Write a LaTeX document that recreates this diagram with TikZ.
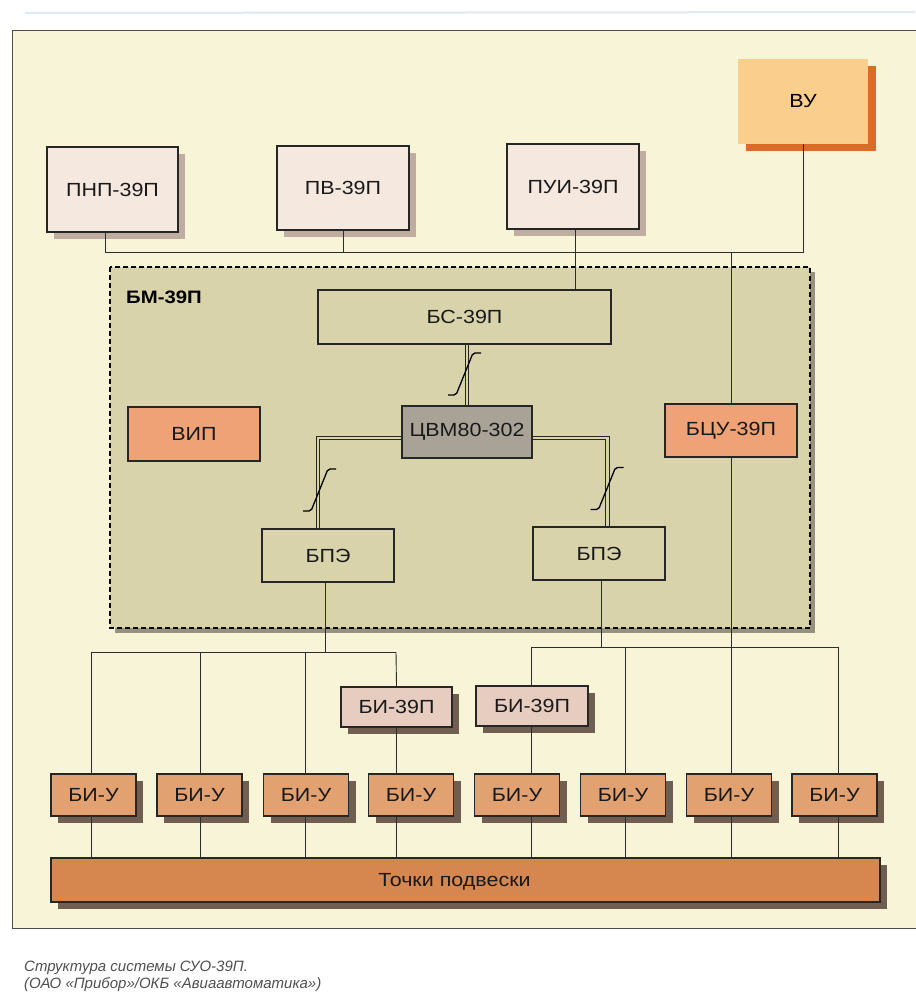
\documentclass[tikz,border=0pt]{standalone}
\usepackage{fontspec}
\setmainfont{Liberation Sans}[FakeStretch=1.13]
\newfontfamily\capfont{Liberation Sans}
\definecolor{cream}{RGB}{247,244,216}
\definecolor{olive}{RGB}{216,211,171}
\definecolor{oliveshadow}{RGB}{150,146,126}
\definecolor{pinkbox}{RGB}{245,232,222}
\definecolor{pinkshadow}{RGB}{192,173,162}
\definecolor{vufill}{RGB}{250,207,142}
\definecolor{vushadow}{RGB}{218,108,40}
\definecolor{orangebox}{RGB}{238,162,118}
\definecolor{cvmfill}{RGB}{168,163,150}
\definecolor{bifill}{RGB}{231,205,192}
\definecolor{biufill}{RGB}{226,161,112}
\definecolor{barfill}{RGB}{214,135,80}
\definecolor{darkshadow}{RGB}{112,94,80}
\definecolor{linecol}{RGB}{45,45,45}
\definecolor{captcol}{RGB}{80,80,80}
\definecolor{blueline}{RGB}{222,234,244}
\begin{document}
\begin{tikzpicture}[x=1pt,y=-1pt,
  font=\fontsize{19}{21}\selectfont,
  conn/.style={draw=linecol, line width=0.9pt},
  rail/.style={draw=black!85, line width=0.9pt},
  box/.style={draw=black!85, line width=1.6pt, inner sep=0pt, text=black!90},
  shad/.style={preaction={fill=#1, transform canvas={shift={(7pt,-7pt)}}}},
  slashpic/.pic={\draw[line width=1.3pt, rounded corners=2pt] (-17,21) -- (-9,21) -- (8,-21) -- (16,-21);}
]
\useasboundingbox (0,0) rectangle (915,1000);
\fill[white] (0,0) rectangle (915,1000);
\draw[blueline, line width=2pt] (25,13) -- (915,12);
% frame
\draw[fill=cream, draw=black!70, line width=1pt] (12,31) rectangle (925,928);

% container
\fill[oliveshadow] (115,272) rectangle (815,633);
\draw[fill=olive, draw=black, line width=1.8pt, dash pattern=on 5pt off 3pt] (110,267) rectangle (810,628);
\node[anchor=west, inner sep=0, font=\bfseries\fontsize{18}{20}\selectfont] (bmlabel) at (126,297) {БМ-39П};

% top row
\node[box, shad=pinkshadow, fill=pinkbox, minimum width=131, minimum height=85] (pnp) at (112.5,189.5) {ПНП-39П};
\node[box, shad=pinkshadow, fill=pinkbox, minimum width=132, minimum height=84] (pv) at (343,188) {ПВ-39П};
\node[box, shad=pinkshadow, fill=pinkbox, minimum width=132, minimum height=85] (pui) at (573,186.5) {ПУИ-39П};
\node[inner sep=0, fill=vufill, preaction={fill=vushadow, transform canvas={shift={(8pt,-7pt)}}}, minimum width=130, minimum height=85] (vu) at (803,101.5) {ВУ};

% inside container
\node[box, fill=olive, minimum width=293, minimum height=54] (bs) at (464.5,317) {БС-39П};
\node[box, fill=cvmfill, minimum width=130, minimum height=52] (cvm) at (467,432) {ЦВМ80-302};
\node[box, fill=orangebox, minimum width=132, minimum height=54] (vip) at (194,434) {ВИП};
\node[box, fill=orangebox, minimum width=132, minimum height=53] (bcu) at (731,430.5) {БЦУ-39П};
\node[box, fill=olive, minimum width=132, minimum height=53] (bpe1) at (328,555.5) {БПЭ};
\node[box, fill=olive, minimum width=132, minimum height=53] (bpe2) at (599,553.5) {БПЭ};

% lower boxes
\node[box, shad=darkshadow, fill=bifill, minimum width=111, minimum height=40] (bi1) at (396.5,707) {БИ-39П};
\node[box, shad=darkshadow, fill=bifill, minimum width=112, minimum height=40] (bi2) at (532,706) {БИ-39П};
\foreach \i/\cx in {1/93.5, 2/199.5, 3/306, 4/411, 5/517, 6/623, 7/729, 8/834.5}{
  \node[box, shad=darkshadow, fill=biufill, minimum width=85, minimum height=42] (biu\i) at (\cx,795) {БИ-У};
}
\node[box, shad=darkshadow, fill=barfill, minimum width=829, minimum height=44, text depth=0pt, execute at begin node={\hspace*{-22pt}}] (bar) at (465.5,880) {Точки подвески};

% connectors top
\coordinate (busL) at (105,252);
\coordinate (busR) at (803,252);
\draw[conn] ([xshift=-7pt]pnp.south) -- ([xshift=-7pt]pnp.south |- busL) -- (busR) -- (vu.south);
\draw[conn] (pv.south) -- (pv.south |- busL);
\draw[conn] ([xshift=2pt]pui.south) -- ([xshift=2pt]pui.south |- bs.north);
\draw[conn] (bcu.north |- busL) -- (bcu.north);
\draw[conn] (bcu.south) -- (bcu.south |- biu7.north);
\draw[conn] (bcu.south |- biu7.south) -- (bcu.south |- bar.north);

% double (bus) lines
\coordinate (tA) at (465.3,0);
\coordinate (tB) at (468.9,0);
\draw[rail] (tA |- bs.south) -- (tA |- cvm.north);
\draw[rail] (tB |- bs.south) -- (tB |- cvm.north);
\coordinate (lo) at (316,436);
\coordinate (li) at (319.6,439.6);
\draw[rail] (cvm.west |- lo) -- (lo) -- (lo |- bpe1.north);
\draw[rail] (cvm.west |- li) -- (li) -- (li |- bpe1.north);
\coordinate (ro) at (609,436);
\coordinate (ri) at (605.4,439.6);
\draw[rail] (cvm.east |- ro) -- (ro) -- (ro |- bpe2.north);
\draw[rail] (cvm.east |- ri) -- (ri) -- (ri |- bpe2.north);
\pic at (465,374) {slashpic};
\pic at (320,490) {slashpic};
\pic at (607.5,488.5) {slashpic};

% lower buses
\coordinate (lbus1) at (91,652);
\coordinate (lbus2) at (396,652);
\coordinate (rbus1) at (531,647);
\coordinate (rbus2) at (838,647);
\draw[conn] (lbus1) -- (lbus2);
\draw[conn] (rbus1) -- (rbus2);
\draw[conn] ([xshift=-3pt]bpe1.south) -- ([xshift=-3pt]bpe1.south |- lbus1);
\draw[conn] ([xshift=2pt]bpe2.south) -- ([xshift=2pt]bpe2.south |- rbus1);
\foreach \x/\n/\y in {91/1/652, 200/2/652, 305/3/652, 625/6/647, 838/8/647}{
  \draw[conn] (\x,\y) -- (\x,774);
  \draw[conn] (\x,816) -- (\x,858);
}
\draw[conn] (lbus2) -- (bi1.north);
\draw[conn] (bi1.south) -- (bi1.south |- biu4.north);
\draw[conn] (bi1.south |- biu4.south) -- (bi1.south |- bar.north);
\draw[conn] (rbus1) -- (rbus1 |- bi2.north);
\draw[conn] (rbus1 |- bi2.south) -- (rbus1 |- biu5.north);
\draw[conn] (rbus1 |- biu5.south) -- (rbus1 |- bar.north);

% caption
\node[anchor=north west, align=left, inner sep=0, text=captcol, font=\capfont\itshape\fontsize{15}{16.5}\selectfont] (cap) at (24,961) {Структура системы СУО-39П.\\(ОАО «Прибор»/ОКБ «Авиаавтоматика»)};
\end{tikzpicture}
\end{document}
